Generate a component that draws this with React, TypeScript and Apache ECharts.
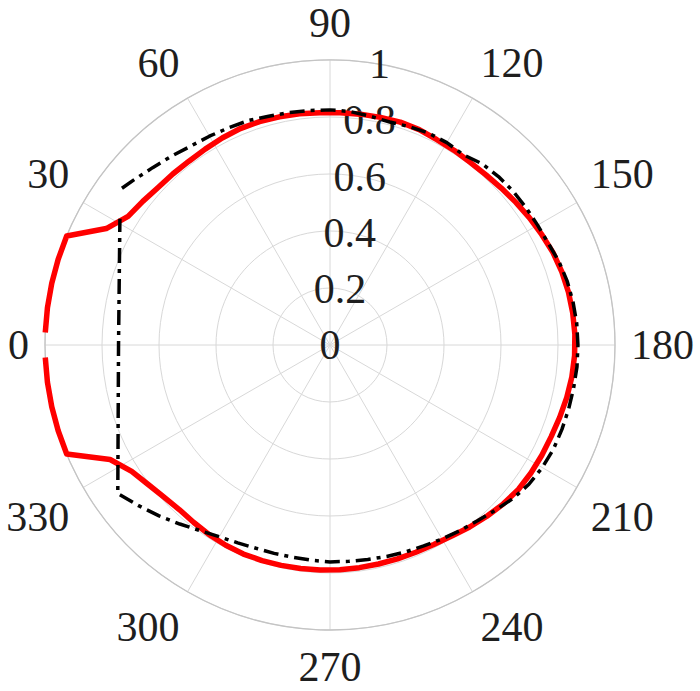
import React, { useEffect, useRef } from "react";
import * as echarts from "echarts";

// Angle ticks (degrees, 0 at left, increasing clockwise)
const angleTicks = [0, 30, 60, 90, 120, 150, 180, 210, 240, 270, 300, 330];
const radiusTicks = [0, 0.2, 0.4, 0.6, 0.8, 1];

// Red solid curve: angles (deg) and radii
const redAngles = [
  2.5, 7.5, 12.5, 17.5, 22.5, 27.5, 32.5, 37.5, 42.5, 47.5, 52.5, 57.5, 62.5, 67.5, 72.5, 77.5,
  82.5, 87.5, 92.5, 97.5, 102.5, 107.5, 112.5, 117.5, 122.5, 127.5, 132.5, 137.5, 142.5, 147.5,
  152.5, 157.5, 162.5, 167.5, 172.5, 177.5, 182.5, 187.5, 192.5, 197.5, 202.5, 207.5, 212.5,
  217.5, 222.5, 227.5, 232.5, 237.5, 242.5, 247.5, 252.5, 257.5, 262.5, 267.5, 272.5, 277.5,
  282.5, 287.5, 292.5, 297.5, 302.5, 307.5, 312.5, 317.5, 322.5, 327.5, 332.5, 337.5, 342.5,
  347.5, 352.5, 357.5,
];
const redRadii = [
  1.0, 1.0, 1.0, 1.0, 1.0, 0.885, 0.84, 0.828, 0.818, 0.815, 0.813, 0.815, 0.819, 0.822, 0.822,
  0.82, 0.818, 0.816, 0.816, 0.817, 0.818, 0.82, 0.818, 0.812, 0.81, 0.808, 0.81, 0.815, 0.822,
  0.83, 0.838, 0.847, 0.853, 0.857, 0.859, 0.86, 0.859, 0.856, 0.851, 0.845, 0.84, 0.838, 0.836,
  0.833, 0.825, 0.815, 0.805, 0.795, 0.789, 0.787, 0.787, 0.787, 0.788, 0.789, 0.79, 0.791,
  0.792, 0.793, 0.794, 0.792, 0.789, 0.785, 0.783, 0.79, 0.804, 0.825, 0.87, 1.0, 1.0, 1.0, 1.0,
  1.0,
];

// Black dash-dot curve (drawing order; ends with the straight cut through 0 deg)
const blackAngles = [
  37, 40, 45, 50, 55, 60, 65, 70, 75, 80, 85, 90, 95, 100, 105, 110, 115, 120, 125, 130, 135,
  140, 145, 150, 155, 160, 165, 170, 175, 180, 185, 190, 195, 200, 205, 210, 215, 220, 225, 230,
  235, 240, 245, 250, 255, 260, 265, 270, 275, 280, 285, 290, 295, 300, 305, 310, 315, 320, 325,
  360, 391,
];
const blackRadii = [
  0.914, 0.9, 0.88, 0.865, 0.852, 0.846, 0.841, 0.838, 0.831, 0.828, 0.826, 0.825, 0.822, 0.815,
  0.81, 0.815, 0.82, 0.82, 0.815, 0.83, 0.836, 0.839, 0.84, 0.841, 0.845, 0.855, 0.862, 0.866,
  0.869, 0.87, 0.87, 0.868, 0.867, 0.866, 0.865, 0.86, 0.852, 0.838, 0.82, 0.805, 0.795, 0.786,
  0.778, 0.773, 0.768, 0.764, 0.762, 0.761, 0.758, 0.756, 0.757, 0.759, 0.766, 0.777, 0.795,
  0.82, 0.848, 0.877, 0.909, 0.742, 0.86,
];

const FONT = "'Liberation Serif', 'Times New Roman', serif";
const TEXT = "#1e1e1e";
const CX = 330;
const CY = 345;
const R = 285;
const DATA_MAX = 1.1; // plotting polar extends beyond 1 so the thick line at r=1 is not clipped

export default function App() {
  const ref = useRef<HTMLDivElement>(null);
  useEffect(() => {
    if (!ref.current) return;
    const chart = echarts.init(ref.current, null, { renderer: "svg" });
    const red = redAngles.map((a, i) => [redRadii[i], a]);
    const black = blackAngles.map((a, i) => [blackRadii[i], a % 360 === 0 && a !== 0 ? 0 : a > 360 ? a - 360 : a]);
    chart.setOption({
      animation: false,
      backgroundColor: "#ffffff",
      polar: [
        { center: [CX, CY], radius: R },
        { center: [CX, CY], radius: R },
        { center: [CX, CY], radius: R * DATA_MAX },
      ],
      angleAxis: [
        {
          polarIndex: 0,
          type: "value",
          startAngle: 180,
          clockwise: true,
          min: 0,
          max: 360,
          interval: 30,
          axisLine: { show: true, lineStyle: { color: "#c4c4c4", width: 1.3 } },
          axisTick: { show: false },
          splitLine: { show: true, lineStyle: { color: "#d8d8d8", width: 1 } },
          axisLabel: {
            show: true,
            margin: 16,
            fontSize: 42,
            fontFamily: FONT,
            color: TEXT,
            formatter: (v: number) => (angleTicks.includes(v) ? String(v) : ""),
          },
        },
        { polarIndex: 1, type: "value", startAngle: 80, min: 0, max: 360, show: false },
        { polarIndex: 2, type: "value", startAngle: 180, clockwise: true, min: 0, max: 360, show: false },
      ],
      radiusAxis: [
        {
          polarIndex: 0,
          type: "value",
          min: 0,
          max: 1,
          interval: 0.2,
          axisLine: { show: false },
          axisTick: { show: false },
          axisLabel: { show: false },
          splitLine: { show: true, lineStyle: { color: "#d8d8d8", width: 1 } },
        },
        {
          polarIndex: 1,
          type: "value",
          min: 0,
          max: 1,
          interval: 0.2,
          axisLine: { show: false },
          axisTick: { show: false },
          splitLine: { show: false },
          axisLabel: {
            show: true,
            margin: 0,
            align: "center",
            verticalAlign: "middle",
            fontSize: 42,
            fontFamily: FONT,
            color: TEXT,
            formatter: (v: number) => {
              const t = radiusTicks.find((r) => Math.abs(r - v) < 1e-6);
              return t === undefined ? "" : String(t);
            },
          },
        },
        { polarIndex: 2, type: "value", min: 0, max: DATA_MAX, show: false },
      ],
      series: [
        {
          type: "line",
          coordinateSystem: "polar",
          polarIndex: 2,
          symbol: "none",
          showSymbol: false,
          data: red,
          lineStyle: { color: "#ff0000", width: 5.5, join: "round" },
          z: 3,
        },
        {
          type: "line",
          coordinateSystem: "polar",
          polarIndex: 2,
          symbol: "none",
          showSymbol: false,
          data: black,
          lineStyle: { color: "#000000", width: 3.5, type: [15, 6, 4, 6], cap: "butt" },
          z: 4,
        },
      ],
    });
    return () => chart.dispose();
  }, []);
  return (
    <div
      ref={ref}
      style={{ position: "fixed", left: 0, top: 0, width: 700, height: 691, background: "#fff" }}
    />
  );
}
